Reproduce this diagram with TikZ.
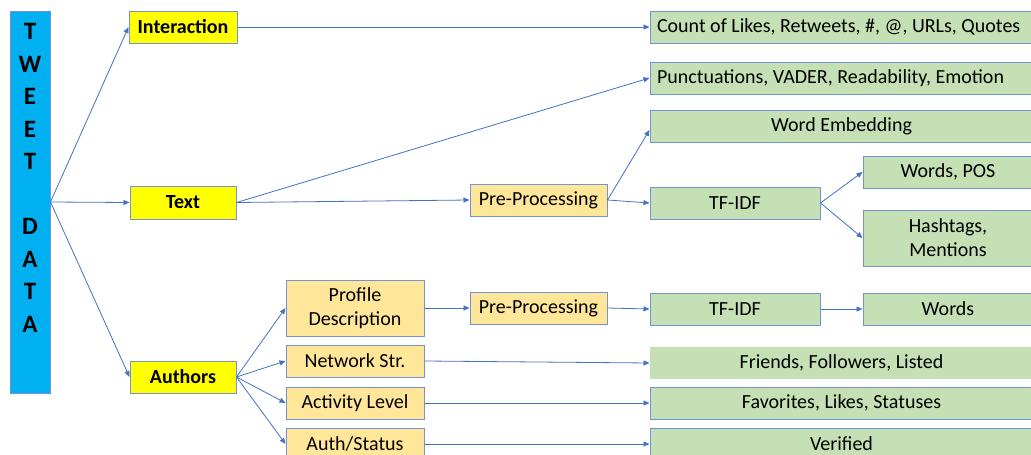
\documentclass[tikz,border=0pt]{standalone}
\usepackage{fontspec}
\setmainfont{Carlito}
\usetikzlibrary{arrows.meta}
\definecolor{bdr}{HTML}{7393D6}
\definecolor{arrc}{HTML}{4472C4}
\definecolor{barc}{HTML}{00B0F0}
\definecolor{yelc}{HTML}{FFFF00}
\definecolor{orgc}{HTML}{FFE699}
\definecolor{grnc}{HTML}{C5E0B4}
\tikzset{
  box/.style={draw=bdr, line width=1pt, inner sep=0pt, align=center, font=\fontsize{20}{24}\selectfont},
  yel/.style={box, fill=yelc, font=\fontsize{20}{24}\selectfont\bfseries},
  org/.style={box, fill=orgc},
  grn/.style={box, fill=grnc},
  grnleft/.style={grn, inner xsep=7pt, text width=369pt, align=flush left},
  arr/.style={draw=arrc, line width=0.8pt, -{Triangle[length=6pt,width=5pt]}}
}
\begin{document}
\begin{tikzpicture}[x=1pt,y=-1pt]
\useasboundingbox (0,0) rectangle (1031,455);
\clip (0,0) rectangle (1031,455);
\fill[white] (0,0) rectangle (1031,455);
% bar
\node[box, fill=barc, minimum width=40, minimum height=382] (bar) at (30,202) {};
\node[inner sep=0pt, align=center, font=\fontsize{25}{32.5}\selectfont\bfseries] (barlabel) at (30,178) {T\\W\\E\\E\\T\\~\\D\\A\\T\\A};
% level 1
\node[yel, minimum width=108, minimum height=32] (inter) at (183,27) {Interaction};
\node[yel, minimum width=106, minimum height=33] (text) at (183,202.5) {Text};
\node[yel, minimum width=106, minimum height=32] (auth) at (183,377) {Authors};
% text branch
\node[grnleft, minimum width=383, minimum height=32] (count) at (841.5,27) {\mbox{Count of Likes, Retweets, \#, @, URLs, Quotes}};
\node[grnleft, minimum width=383, minimum height=32] (punct) at (841.5,78) {\mbox{Punctuations, VADER, Readability, Emotion}};
\node[grn, minimum width=383, minimum height=32] (wemb) at (841.5,126) {Word Embedding};
\node[org, minimum width=137, minimum height=32] (prep1) at (538.5,200) {Pre-Processing};
\node[grn, minimum width=170, minimum height=32] (tfidf1) at (735,203) {TF-IDF};
\node[grn, minimum width=170, minimum height=32] (wpos) at (948,172) {Words, POS};
\node[grn, minimum width=170, minimum height=56] (hash) at (948,238) {Hashtags,\\Mentions};
% authors branch
\node[org, minimum width=138, minimum height=56] (prof) at (355,308) {Profile\\Description};
\node[org, minimum width=138, minimum height=32] (netw) at (355,361) {Network Str.};
\node[org, minimum width=138, minimum height=32] (act) at (355,403) {Activity Level};
\node[org, minimum width=138, minimum height=32] (astat) at (355,444) {Auth/Status};
\node[org, minimum width=137, minimum height=32] (prep2) at (538.5,308) {Pre-Processing};
\node[grn, minimum width=170, minimum height=32] (tfidf2) at (735,309) {TF-IDF};
\node[grn, minimum width=170, minimum height=32] (words) at (948,309) {Words};
\node[grn, draw=none, minimum width=383, minimum height=32] (friends) at (841.5,363) {Friends, Followers, Listed};
\node[grn, minimum width=383, minimum height=32] (fav) at (841.5,403) {Favorites, Likes, Statuses};
\node[grn, minimum width=383, minimum height=32] (verif) at (841.5,444) {Verified};
% arrows
\draw[arr] (bar.east) -- (inter.west);
\draw[arr] (bar.east) -- (text.west);
\draw[arr] (bar.east) -- (auth.west);
\draw[arr] (inter.east) -- (count.west);
\draw[arr] (text.east) -- (punct.west);
\draw[arr] (text.east) -- (prep1.west);
\draw[arr] (prep1.east) -- ([yshift=-4pt]wemb.west);
\draw[arr] (prep1.east) -- (tfidf1.west);
\draw[arr] (tfidf1.east) -- (wpos.west);
\draw[arr] (tfidf1.east) -- (hash.west);
\draw[arr] (auth.east) -- (prof.west);
\draw[arr] (auth.east) -- (netw.west);
\draw[arr] (auth.east) -- (act.west);
\draw[arr] (auth.east) -- (astat.west);
\draw[arr] (prof.east) -- (prep2.west);
\draw[arr] (prep2.east) -- (tfidf2.west);
\draw[arr] (tfidf2.east) -- (words.west);
\draw[arr] (netw.east) -- (friends.west);
\draw[arr] (act.east) -- (fav.west);
\draw[arr] (astat.east) -- (verif.west);
\end{tikzpicture}
\end{document}
